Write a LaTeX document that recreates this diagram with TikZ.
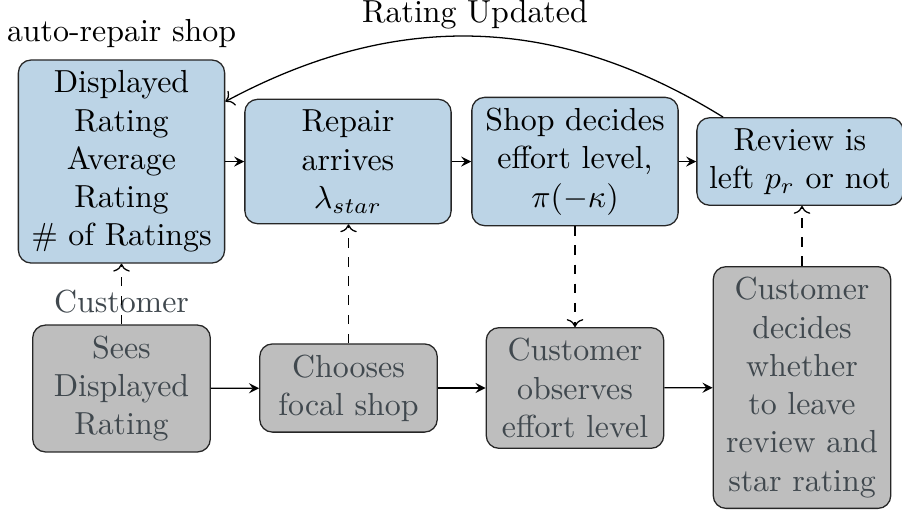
\documentclass[tikz,border=0pt]{standalone}
\usetikzlibrary{arrows.meta}
\definecolor{topblue}{RGB}{188,212,230}
\definecolor{botgray}{RGB}{190,190,190}
\definecolor{bottext}{RGB}{64,72,78}
\begin{document}
\begin{tikzpicture}[x=0.3135pt,y=-0.3135pt,
  topbox/.style={draw=black!85, fill=topblue, rounded corners=4pt, align=center, text width=58pt},
  botbox/.style={draw=black!85, fill=botgray, text=bottext, rounded corners=4pt, align=center, text width=49pt},
  flow/.style={-stealth},
  dflow/.style={dashed,->}]
\useasboundingbox (0,0) rectangle (902,512);
\node[topbox, label={above:auto-repair shop}] (A) at (121.5,161.5) {Displayed\\Rating\\Average\\Rating\\\# of Ratings};
\node[topbox] (B) at (348,161.5) {Repair\\arrives\\$\lambda_{star}$};
\node[topbox] (C) at (575,161.5) {Shop decides\\effort level,\\$\pi(-\kappa)$};
\node[topbox] (D) at (800,161.5) {Review is\\left $p_r$ or not};
\node[botbox, label={[text=bottext]above:Customer}] (E) at (121.5,388.5) {Sees\\Displayed\\Rating};
\node[botbox] (F) at (348.5,388) {Chooses\\focal shop};
\node[botbox] (G) at (575,388) {Customer\\observes\\effort level};
\node[botbox] (H) at (802,387.5) {Customer\\decides\\whether\\to leave\\review and\\star rating};
\draw[flow] (A) -- (B);
\draw[flow] (B) -- (C);
\draw[flow] (C) -- (D);
\draw[flow] (E) -- (F);
\draw[flow] (F) -- (G);
\draw[flow] (G) -- (H);
\draw[dflow] (E.north) -- (A.south);
\draw[dflow] (F.north) -- (F.north |- B.south);
\draw[dflow] (C.south) -- (C.south |- G.north);
\draw[dflow] (H.north) -- (H.north |- D.south);
\draw[->] (D.150) to[bend right=30] (A.30);
\node[anchor=base] (RU) at (475,22) {Rating Updated};
\end{tikzpicture}
\end{document}
